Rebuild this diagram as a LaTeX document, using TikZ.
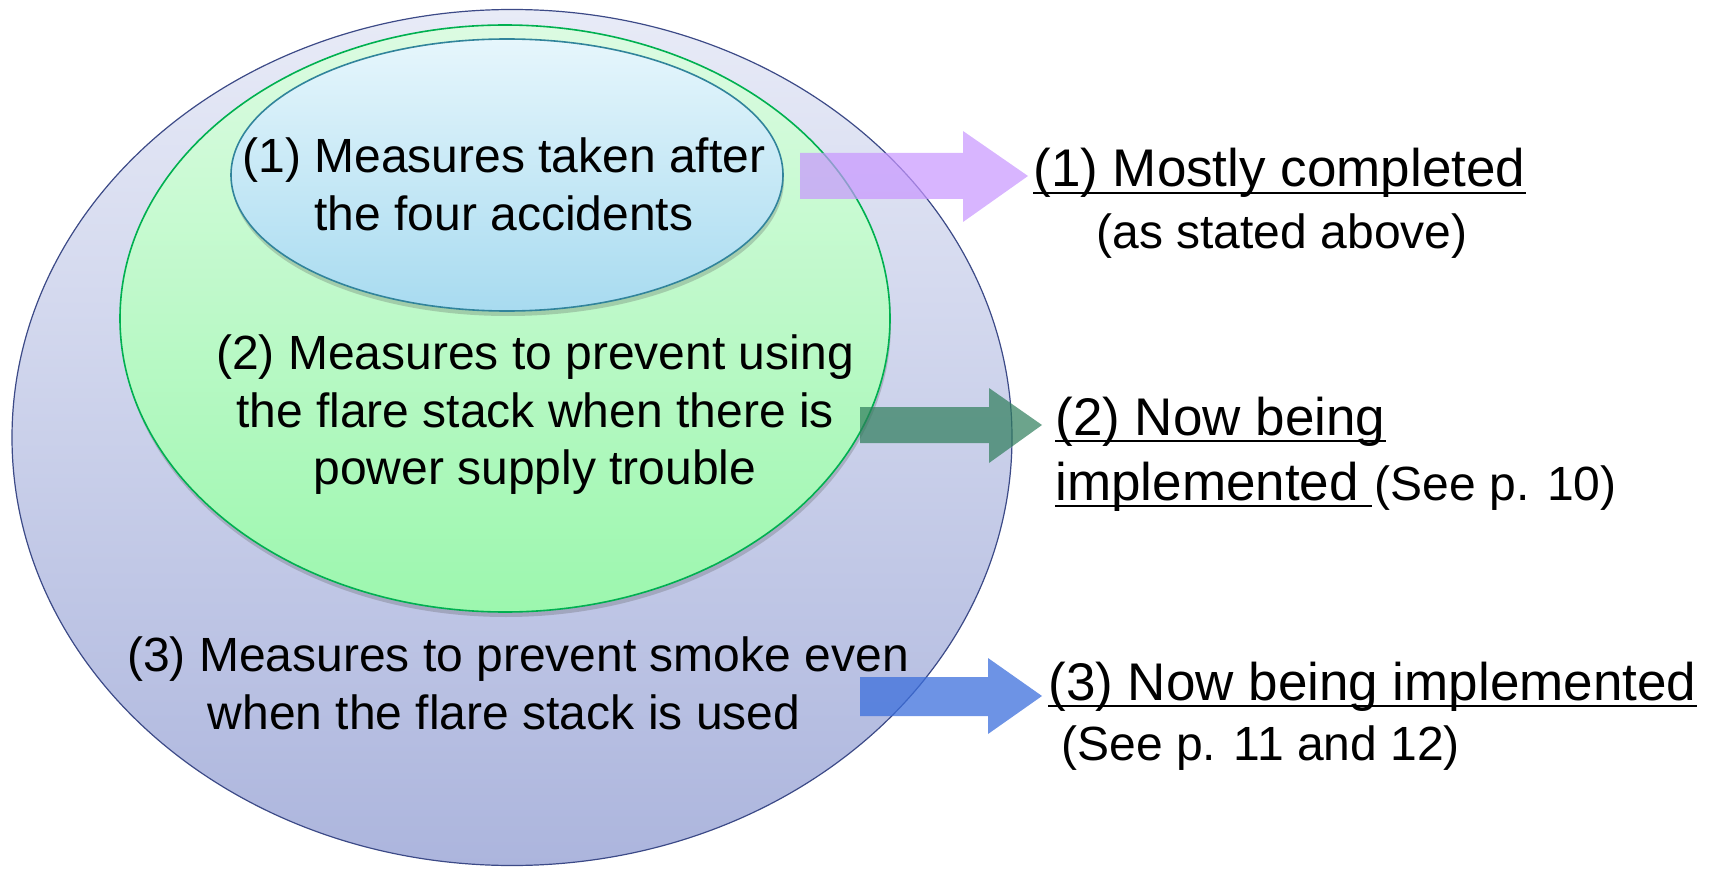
\documentclass[tikz,border=0pt]{standalone}
\usepackage{fontspec}
\setmainfont{Liberation Sans}
\usetikzlibrary{shapes.geometric,shadows}
\definecolor{outerline}{HTML}{3C4A87}
\definecolor{outertop}{HTML}{E8EBF7}
\definecolor{outerbot}{HTML}{ACB5DD}
\definecolor{midline}{HTML}{00B050}
\definecolor{midtop}{HTML}{DCFBE2}
\definecolor{midbot}{HTML}{9CF7AE}
\definecolor{innline}{HTML}{31849B}
\definecolor{inntop}{HTML}{E6F6FC}
\definecolor{innbot}{HTML}{A8DBF0}
\definecolor{arrpurple}{HTML}{C896FF}
\definecolor{arrgreen}{HTML}{2E7D5B}
\definecolor{arrblue}{HTML}{3C6FDC}
\tikzset{
  ell/.style={ellipse, inner sep=0pt, line width=0.8pt},
  small/.style={font=\fontsize{24}{28}\selectfont, inner sep=0pt},
  big/.style={font=\fontsize{26.5}{31}\selectfont, inner sep=0pt},
  ul/.style={line width=1.3pt, black},
  shad/.style={drop shadow={shadow xshift=0.5pt, shadow yshift=-2.5pt, opacity=0.25, fill=black!70}}
}
\begin{document}
\begin{tikzpicture}[x=0.5pt,y=-0.5pt]
\useasboundingbox (0,0) rectangle (1715,872);
% ellipses
\node[ell, draw=outerline, line width=0.6pt, top color=outertop, bottom color=outerbot,
      minimum width=500pt, minimum height=428pt] (outer) at (512,437.5) {};
\node[ell, draw=midline, top color=midtop, bottom color=midbot, shad,
      minimum width=385pt, minimum height=293.5pt] (mid) at (505,318.5) {};
\node[ell, draw=innline, top color=inntop, bottom color=innbot, shad,
      minimum width=276pt, minimum height=136pt] (inn) at (507,175) {};
% arrows
\fill[arrpurple, opacity=0.7] (800,153) -- (963,153) -- (963,131) -- (1028,176) -- (963,222) -- (963,199) -- (800,199) -- cycle;
\fill[arrgreen, opacity=0.7] (860,407) -- (989,407) -- (989,388) -- (1042,425) -- (989,463) -- (989,443) -- (860,443) -- cycle;
\fill[arrblue, opacity=0.75] (860,677) -- (988,677) -- (988,658) -- (1042,696) -- (988,734) -- (988,716) -- (860,716) -- cycle;
% texts in ellipses
\node[small, anchor=base west] (i1) at (242,173) {(1) Measures taken after};
\node[small, anchor=base west] (i2) at (314,230) {the four accidents};
\node[small, anchor=base] (m1) at (535,369) {(2) Measures to prevent using};
\node[small, anchor=base] (m2) at (535,427) {the flare stack when there is};
\node[small, anchor=base] (m3) at (535,484) {power supply trouble};
\node[small, anchor=base] (o1) at (518,671) {(3) Measures to prevent smoke even};
\node[small, anchor=base] (o2) at (504,729) {when the flare stack is used};
% right texts
\node[big, anchor=base west] (r1) at (1033,187) {(1) Mostly completed};
\node[small, anchor=base] (r1s) at (1282,249) {(as stated above)};
\node[big, anchor=base west] (r2a) at (1055,435) {(2) Now being};
\node[big, anchor=base west] (r2b) at (1055,500) {implemented};
\node[small, anchor=base west] (r2c) at ([xshift=7.5pt]r2b.base east) {(See p. 10)};
\node[big, anchor=base west] (r3) at (1048,700) {(3) Now being implemented};
\node[small, anchor=base west] (r3s) at (1061,760) {(See p. 11 and 12)};
% underlines
\draw[ul] ([yshift=-3pt]r1.base west) -- ([yshift=-3pt]r1.base east);
\draw[ul] ([yshift=-3pt]r2a.base west) -- ([yshift=-3pt]r2a.base east);
\draw[ul] ([yshift=-3pt]r2b.base west) -- ([yshift=-3pt,xshift=6.5pt]r2b.base east);
\draw[ul] ([yshift=-3pt]r3.base west) -- ([yshift=-3pt]r3.base east);
\end{tikzpicture}
\end{document}
